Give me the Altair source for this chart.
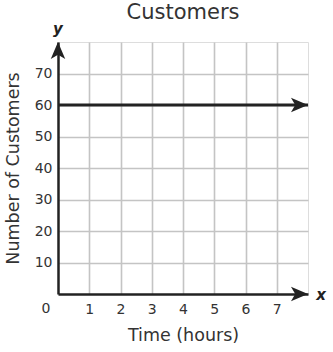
import altair as alt
import pandas as pd

# Data
line_x = [0, 8]
line_y = [60, 60]
x_ticks = [1, 2, 3, 4, 5, 6, 7]
y_ticks = [10, 20, 30, 40, 50, 60, 70]
x_max = 8
y_max = 80

FONT = "DejaVu Sans"
TXT = "#333333"

line_df = pd.DataFrame({"t": line_x, "c": line_y})
x_scale = alt.Scale(domain=[0, x_max], nice=False, zero=True)
y_scale = alt.Scale(domain=[0, y_max], nice=False, zero=True)

base = alt.Chart(line_df)

line = base.mark_line(color="#222222", strokeWidth=3).encode(
    x=alt.X("t:Q", scale=x_scale,
            axis=alt.Axis(values=x_ticks, title="Time (hours)", grid=True,
                          gridColor="#c4c4c4", gridWidth=1.6, ticks=False,
                          domainColor="#222222", domainWidth=2.5,
                          labelFont=FONT, labelFontSize=14, labelColor=TXT,
                          labelPadding=8, titleFont=FONT, titleFontSize=17.5,
                          titleFontWeight="normal", titleColor=TXT, titlePadding=10)),
    y=alt.Y("c:Q", scale=y_scale,
            axis=alt.Axis(values=y_ticks, title="Number of Customers", grid=True,
                          gridColor="#c4c4c4", gridWidth=1.6, ticks=False,
                          domainColor="#222222", domainWidth=2.5,
                          labelFont=FONT, labelFontSize=14, labelColor=TXT,
                          labelPadding=6, titleFont=FONT, titleFontSize=17.5,
                          titleFontWeight="normal", titleColor=TXT, titlePadding=12)),
)

right_arrow = "M 0 0 L -2 -0.85 L -1.5 0 L -2 0.85 Z"
up_arrow = "M 0 0 L -0.85 2 L 0 1.5 L 0.85 2 Z"

arr_right_df = pd.DataFrame({"t": [x_max, x_max], "c": [line_y[1], 0]})
arr_up_df = pd.DataFrame({"t": [0], "c": [y_max]})

arr_r = alt.Chart(arr_right_df).mark_point(
    shape=right_arrow, filled=True, color="#222222", size=290, opacity=1
).encode(x=alt.X("t:Q", scale=x_scale), y=alt.Y("c:Q", scale=y_scale))

arr_u = alt.Chart(arr_up_df).mark_point(
    shape=up_arrow, filled=True, color="#222222", size=290, opacity=1
).encode(x=alt.X("t:Q", scale=x_scale), y=alt.Y("c:Q", scale=y_scale))

zero_df = pd.DataFrame({"t": [0], "c": [0], "s": ["0"]})
zero_lbl = alt.Chart(zero_df).mark_text(
    font=FONT, fontSize=14, color=TXT, dx=-12, dy=15
).encode(x=alt.X("t:Q", scale=x_scale), y=alt.Y("c:Q", scale=y_scale), text="s:N")

names_df = pd.DataFrame({"t": [x_max, 0], "c": [0, y_max], "s": ["x", "y"]})
x_name = alt.Chart(names_df.iloc[[0]]).mark_text(
    font=FONT, fontSize=15, fontStyle="italic", fontWeight="bold", color="#222222",
    dx=13, dy=1
).encode(x=alt.X("t:Q", scale=x_scale), y=alt.Y("c:Q", scale=y_scale), text="s:N")
y_name = alt.Chart(names_df.iloc[[1]]).mark_text(
    font=FONT, fontSize=15, fontStyle="italic", fontWeight="bold", color="#222222",
    dx=0, dy=-13
).encode(x=alt.X("t:Q", scale=x_scale), y=alt.Y("c:Q", scale=y_scale), text="s:N")

chart = alt.layer(line, arr_r, arr_u, zero_lbl, x_name, y_name).properties(
    width=250, height=252,
    title=alt.TitleParams("Customers", font=FONT, fontSize=21, fontWeight="normal",
                          color=TXT, offset=-1, anchor="middle"),
    autosize=alt.AutoSizeParams(type="none"),
    padding={"left": 58, "top": 42, "right": 25, "bottom": 58},
).configure_view(stroke="#222222", strokeWidth=2).configure(background="white")

chart.save("out.html", embed_options={"renderer": "svg", "actions": False})
